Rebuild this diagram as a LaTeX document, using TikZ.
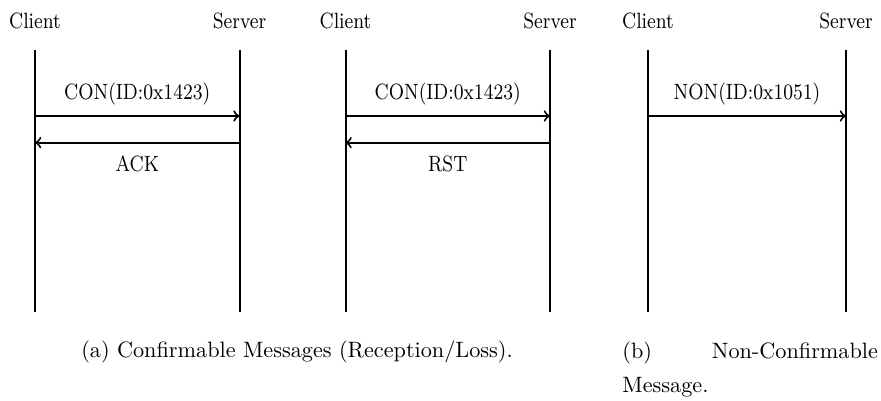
\documentclass[tikz,border=0pt]{standalone}
\usepackage{tikz}

\begin{document}
\begin{tikzpicture}[x=0.45pt, y=-0.45pt,
    lifeline/.style={line width=0.9pt},
    msg/.style={line width=0.9pt, ->},
    party/.style={font=\fontsize{8.3}{10}\selectfont, above=4.9pt, yscale=1.2, transform shape},
    msgtext/.style={font=\fontsize{8.3}{10}\selectfont, yscale=1.2, transform shape},
    captext/.style={font=\fontsize{10}{15.5}\selectfont}]
        \useasboundingbox (0,0) rectangle (881,401);
        \pgfmathsetmacro{\yt}{50}
        \pgfmathsetmacro{\yd}{312}
        \pgfmathsetmacro{\ym}{116}
        \pgfmathsetmacro{\yr}{142.7}
        % lifelines, top and bottom
        \coordinate (C1t) at (35,\yt);
        \coordinate (C1d) at (35,\yd);
        \coordinate (S1t) at (239.5,\yt);
        \coordinate (S1d) at (239.5,\yd);
        \coordinate (C2t) at (345.5,\yt);
        \coordinate (C2d) at (345.5,\yd);
        \coordinate (S2t) at (550,\yt);
        \coordinate (S2d) at (550,\yd);
        \coordinate (C3t) at (648,\yt);
        \coordinate (C3d) at (648,\yd);
        \coordinate (S3t) at (846,\yt);
        \coordinate (S3d) at (846,\yd);
        % message ends
        \coordinate (C1m) at (C1t |- 0,\ym);
        \coordinate (S1m) at (S1t |- 0,\ym);
        \coordinate (C1r) at (C1t |- 0,\yr);
        \coordinate (S1r) at (S1t |- 0,\yr);
        \coordinate (C2m) at (C2t |- 0,\ym);
        \coordinate (S2m) at (S2t |- 0,\ym);
        \coordinate (C2r) at (C2t |- 0,\yr);
        \coordinate (S2r) at (S2t |- 0,\yr);
        \coordinate (C3m) at (C3t |- 0,\ym);
        \coordinate (S3m) at (S3t |- 0,\ym);
        \draw[lifeline] (C1t) node[party] (cl1) {Client} -- (C1d);
        \draw[lifeline] (S1t) node[party] (sv1) {Server} -- (S1d);
        \draw[lifeline] (C2t) node[party] (cl2) {Client} -- (C2d);
        \draw[lifeline] (S2t) node[party] (sv2) {Server} -- (S2d);
        \draw[lifeline] (C3t) node[party] (cl3) {Client} -- (C3d);
        \draw[lifeline] (S3t) node[party] (sv3) {Server} -- (S3d);
        \draw[msg] (C1m) -- (S1m) node[midway, above=0.6pt, msgtext] (con1) {CON(ID:0x1423)};
        \draw[msg] (S1r) -- (C1r) node[midway, below=1.4pt, msgtext] (ack) {ACK};
        \draw[msg] (C2m) -- (S2m) node[midway, above=0.6pt, msgtext] (con2) {CON(ID:0x1423)};
        \draw[msg] (S2r) -- (C2r) node[midway, below=1.4pt, msgtext] (rst) {RST};
        \draw[msg] (C3m) -- (S3m) node[midway, above=0.6pt, msgtext] (non) {NON(ID:0x1051)};
        % \draw[msg] (S3r) -- (C3r);
        \node[captext, anchor=base] (capa) at (297,358) {(a) Confirmable Messages (Reception/Loss).};
        \node[captext, anchor=north west, inner sep=0pt, text width=115pt, align=left] (capb) at (622,341.3)
            {\noindent(b)\hfill Non-Confirmable\\Message.};
\end{tikzpicture}
\end{document}
